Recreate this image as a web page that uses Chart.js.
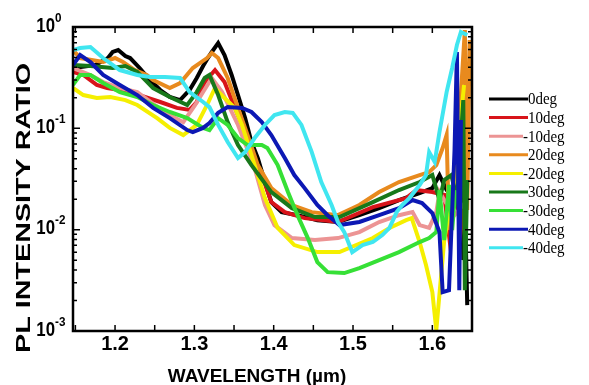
<!DOCTYPE html>
<html>
<head>
<meta charset="utf-8">
<script src="https://cdn.jsdelivr.net/npm/chart.js@4.4.0/dist/chart.umd.min.js"></script>
<style>
  html, body { margin: 0; padding: 0; background: #fff; }
  #wrap { width: 589px; height: 385px; }
</style>
</head>
<body>
<div id="wrap"><canvas id="plChart" width="589" height="385"></canvas></div>
<script>
// legend order
const labels = ['0deg', '10deg', '-10deg', '20deg', '-20deg', '30deg', '-30deg', '40deg', '-40deg'];
const colors = ['#000000', '#d8141a', '#ec9494', '#e88a1e', '#f5ef00', '#18781a', '#36e036', '#0c18b4', '#40e6f0'];

// wavelength (um) / PL intensity ratio
const wl0 = [1.147, 1.175, 1.191, 1.197, 1.204, 1.213, 1.219, 1.231, 1.244, 1.257, 1.269, 1.282, 1.294, 1.303, 1.311, 1.317, 1.322, 1.330, 1.338, 1.347, 1.355, 1.364, 1.372, 1.380, 1.389, 1.397, 1.410, 1.430, 1.455, 1.481, 1.508, 1.533, 1.558, 1.584, 1.600, 1.609, 1.618, 1.628, 1.634, 1.636, 1.639, 1.641, 1.644];
const r0 = [0.394, 0.421, 0.494, 0.567, 0.593, 0.517, 0.494, 0.394, 0.300, 0.239, 0.204, 0.190, 0.239, 0.314, 0.412, 0.494, 0.567, 0.695, 0.529, 0.336, 0.213, 0.126, 0.0732, 0.0509, 0.0295, 0.0187, 0.0149, 0.0139, 0.0124, 0.0119, 0.0139, 0.0163, 0.0196, 0.0230, 0.0257, 0.0346, 0.0246, 0.0196, 0.0323, 0.152, 0.00501, 0.0196, 0.00180];

const wl10 = [1.147, 1.160, 1.177, 1.190, 1.206, 1.231, 1.257, 1.278, 1.294, 1.303, 1.313, 1.326, 1.338, 1.351, 1.364, 1.372, 1.385, 1.397, 1.414, 1.439, 1.481, 1.525, 1.567, 1.580, 1.600, 1.615, 1.621, 1.628, 1.636, 1.643];
const r10 = [0.360, 0.336, 0.268, 0.250, 0.239, 0.213, 0.182, 0.159, 0.152, 0.182, 0.286, 0.376, 0.286, 0.159, 0.0919, 0.0583, 0.0346, 0.0187, 0.0149, 0.0130, 0.0119, 0.0167, 0.0205, 0.0246, 0.0235, 0.0220, 0.00885, 0.0276, 0.00991, 0.0220];

const wlM10 = [1.147, 1.169, 1.185, 1.206, 1.228, 1.250, 1.269, 1.286, 1.301, 1.311, 1.322, 1.335, 1.355, 1.376, 1.389, 1.401, 1.423, 1.452, 1.481, 1.508, 1.533, 1.558, 1.575, 1.584, 1.596, 1.605, 1.609, 1.615, 1.628, 1.644];
const rM10 = [0.394, 0.336, 0.286, 0.250, 0.228, 0.170, 0.135, 0.115, 0.170, 0.228, 0.314, 0.228, 0.108, 0.0405, 0.0175, 0.0111, 0.00826, 0.00789, 0.00826, 0.00946, 0.0119, 0.0139, 0.0149, 0.0111, 0.0104, 0.0149, 0.0235, 0.0196, 0.0139, 0.0196];

const wl20 = [1.147, 1.156, 1.185, 1.200, 1.210, 1.225, 1.240, 1.248, 1.269, 1.282, 1.298, 1.316, 1.322, 1.330, 1.342, 1.355, 1.367, 1.380, 1.397, 1.423, 1.448, 1.481, 1.508, 1.533, 1.558, 1.584, 1.596, 1.605, 1.613, 1.618, 1.621, 1.628, 1.634, 1.641, 1.644, 1.647];
const r20 = [0.593, 0.494, 0.451, 0.494, 0.451, 0.376, 0.336, 0.300, 0.250, 0.280, 0.394, 0.494, 0.554, 0.494, 0.314, 0.159, 0.0859, 0.0434, 0.0257, 0.0175, 0.0149, 0.0139, 0.0175, 0.0235, 0.0295, 0.0346, 0.0370, 0.0434, 0.0639, 0.0859, 0.00991, 0.0309, 0.121, 0.934, 0.0156, 0.744];

const wlM20 = [1.147, 1.160, 1.177, 1.194, 1.213, 1.228, 1.253, 1.269, 1.286, 1.303, 1.316, 1.326, 1.338, 1.351, 1.360, 1.376, 1.389, 1.405, 1.426, 1.455, 1.483, 1.525, 1.546, 1.567, 1.574, 1.584, 1.592, 1.600, 1.605, 1.615, 1.628, 1.640];
const rM20 = [0.250, 0.213, 0.199, 0.204, 0.190, 0.170, 0.126, 0.101, 0.0859, 0.108, 0.170, 0.250, 0.199, 0.159, 0.108, 0.0434, 0.0205, 0.0104, 0.00705, 0.00601, 0.00601, 0.00826, 0.0104, 0.0124, 0.0130, 0.00755, 0.00448, 0.00242, 0.00102, 0.00789, 0.0309, 0.268];

const wl30 = [1.147, 1.169, 1.197, 1.213, 1.228, 1.248, 1.269, 1.291, 1.303, 1.313, 1.319, 1.330, 1.342, 1.355, 1.372, 1.397, 1.423, 1.452, 1.483, 1.525, 1.558, 1.584, 1.600, 1.609, 1.615, 1.624, 1.631, 1.639, 1.641, 1.644];
const r30 = [0.421, 0.412, 0.394, 0.412, 0.360, 0.250, 0.204, 0.170, 0.228, 0.314, 0.336, 0.213, 0.115, 0.0684, 0.0434, 0.0235, 0.0163, 0.0133, 0.0133, 0.0187, 0.0246, 0.0295, 0.0346, 0.0196, 0.0309, 0.0346, 0.0196, 0.190, 0.00253, 0.0309];

const wlM30 = [1.147, 1.156, 1.169, 1.185, 1.206, 1.228, 1.248, 1.269, 1.291, 1.311, 1.319, 1.330, 1.342, 1.355, 1.367, 1.385, 1.392, 1.405, 1.418, 1.430, 1.443, 1.455, 1.468, 1.489, 1.508, 1.533, 1.558, 1.584, 1.596, 1.605, 1.609, 1.615, 1.621, 1.625, 1.629];
const rM30 = [0.268, 0.336, 0.336, 0.280, 0.228, 0.204, 0.170, 0.145, 0.126, 0.101, 0.0962, 0.126, 0.108, 0.0802, 0.0684, 0.0684, 0.0639, 0.0434, 0.0235, 0.0139, 0.00826, 0.00479, 0.00381, 0.00373, 0.00418, 0.00501, 0.00601, 0.00755, 0.00826, 0.00946, 0.0246, 0.00789, 0.0276, 0.00991, 0.0246];

const wl40 = [1.147, 1.156, 1.169, 1.185, 1.206, 1.228, 1.248, 1.269, 1.291, 1.298, 1.311, 1.319, 1.330, 1.342, 1.360, 1.372, 1.385, 1.397, 1.414, 1.426, 1.439, 1.455, 1.468, 1.483, 1.508, 1.533, 1.558, 1.575, 1.587, 1.600, 1.609, 1.613, 1.621, 1.628, 1.631, 1.634, 1.636];
const r40 = [0.421, 0.529, 0.451, 0.336, 0.268, 0.213, 0.159, 0.126, 0.0962, 0.0919, 0.101, 0.113, 0.142, 0.162, 0.159, 0.145, 0.115, 0.0859, 0.0509, 0.0346, 0.0257, 0.0175, 0.0139, 0.0111, 0.0119, 0.0139, 0.0163, 0.0196, 0.0183, 0.0146, 0.00946, 0.00242, 0.00253, 0.0611, 0.567, 0.00253, 0.121];

const wlM40 = [1.147, 1.156, 1.169, 1.185, 1.206, 1.228, 1.244, 1.263, 1.282, 1.294, 1.311, 1.319, 1.330, 1.342, 1.355, 1.364, 1.376, 1.389, 1.401, 1.414, 1.424, 1.435, 1.448, 1.460, 1.473, 1.481, 1.489, 1.499, 1.512, 1.525, 1.537, 1.546, 1.555, 1.562, 1.571, 1.584, 1.592, 1.596, 1.603, 1.609, 1.618, 1.625, 1.631, 1.636, 1.644];
const rM40 = [0.593, 0.620, 0.635, 0.494, 0.376, 0.336, 0.321, 0.321, 0.314, 0.228, 0.182, 0.162, 0.108, 0.0732, 0.0509, 0.0583, 0.0802, 0.108, 0.135, 0.145, 0.142, 0.108, 0.0583, 0.0295, 0.0175, 0.0119, 0.00946, 0.00601, 0.00705, 0.00755, 0.00885, 0.0104, 0.0149, 0.0175, 0.0205, 0.0276, 0.0346, 0.0583, 0.0465, 0.0919, 0.228, 0.394, 0.664, 0.893, 0.833];

const wls = [wl0, wl10, wlM10, wl20, wlM20, wl30, wlM30, wl40, wlM40];
const vals = [r0, r10, rM10, r20, rM20, r30, rM30, r40, rM40];

// axis ticks
const xMajor = [1.2, 1.3, 1.4, 1.5, 1.6];
const xMinor = [1.15, 1.25, 1.35, 1.45, 1.55, 1.65];
const yMajor = [1, 0.1, 0.01, 0.001];
const yExp = ['0', '-1', '-2', '-3'];

const SANS = '"Liberation Sans", Arial, sans-serif';
const SERIF = '"Liberation Serif", "Times New Roman", serif';

function squeezeText(ctx, text, x, y, font, sx, align) {
    ctx.save();
    ctx.font = font;
    ctx.textAlign = align;
    ctx.textBaseline = 'middle';
    ctx.translate(x, y);
    ctx.scale(sx, 1);
    ctx.fillText(text, 0, 0);
    ctx.restore();
}

const framePlugin = {
    id: 'frame',
    afterDraw(chart) {
        const ctx = chart.ctx;
        const a = chart.chartArea;
        const xs = chart.scales.x;
        const ys = chart.scales.y;
        ctx.save();
        ctx.strokeStyle = '#000';
        ctx.fillStyle = '#000';

        // ticks (inward, all four sides)
        ctx.lineWidth = 1.5;
        ctx.beginPath();
        xMajor.concat(xMinor).forEach(v => {
            const px = xs.getPixelForValue(v);
            if (px < a.left || px > a.right) return;
            ctx.moveTo(px, a.bottom); ctx.lineTo(px, a.bottom - 6);
            ctx.moveTo(px, a.top); ctx.lineTo(px, a.top + 6);
        });
        for (let e = -3; e < 0; e++) {
            for (let k = 1; k <= 9; k++) {
                const py = ys.getPixelForValue(k * Math.pow(10, e));
                const len = k === 1 ? 7 : 4;
                ctx.moveTo(a.left, py); ctx.lineTo(a.left + len, py);
                ctx.moveTo(a.right, py); ctx.lineTo(a.right - len, py);
            }
        }
        ctx.stroke();

        // frame
        ctx.lineWidth = 2.5;
        ctx.strokeRect(a.left, a.top, a.right - a.left, a.bottom - a.top);

        // x tick labels
        xMajor.forEach(v => {
            squeezeText(ctx, v.toFixed(1), xs.getPixelForValue(v), a.bottom + 13, 'bold 20px ' + SANS, 1, 'center');
        });

        // y tick labels 10^n
        yMajor.forEach((v, i) => {
            const py = ys.getPixelForValue(v);
            squeezeText(ctx, '10', 55, py - 1, 'bold 21px ' + SANS, 0.8, 'right');
            squeezeText(ctx, yExp[i], 55, py - 9, 'bold 13px ' + SANS, 0.9, 'left');
        });

        // axis titles
        ctx.save();
        ctx.translate(24, 208);
        ctx.rotate(-Math.PI / 2);
        ctx.font = 'bold 21px ' + SANS;
        const tw = ctx.measureText('PL INTENSITY RATIO').width;
        squeezeText(ctx, 'PL INTENSITY RATIO', 0, 0, 'bold 21px ' + SANS, 290 / tw, 'center');
        ctx.restore();

        squeezeText(ctx, 'WAVELENGTH (\u00b5m)', 257, 377, 'bold 19px ' + SANS, 1, 'center');

        // legend
        ctx.font = '17px ' + SERIF;
        const minusW = ctx.measureText('-').width * 0.88;
        labels.forEach((lab, i) => {
            const y = 99 + i * 18.6;
            const tx = lab.startsWith('-') ? 528 - minusW : 528;
            ctx.strokeStyle = colors[i];
            ctx.lineWidth = 3;
            ctx.beginPath();
            ctx.moveTo(489, y);
            ctx.lineTo(tx, y);
            ctx.stroke();
            ctx.fillStyle = '#000';
            squeezeText(ctx, lab, tx, y + 1, '17px ' + SERIF, 0.88, 'left');
        });
        ctx.restore();
    }
};

const ctx = document.getElementById('plChart').getContext('2d');
new Chart(ctx, {
    type: 'line',
    data: {
        datasets: labels.map((lab, i) => ({
            label: lab,
            data: wls[i].map((x, j) => ({ x: x, y: vals[i][j] })),
            borderColor: colors[i],
            borderWidth: 4,
            pointRadius: 0,
            tension: 0,
            fill: false,
            order: labels.length - i   // later series drawn on top
        }))
    },
    options: {
        responsive: false,
        animation: false,
        events: [],
        layout: { padding: { left: 73, top: 27, right: 117, bottom: 54 } },
        plugins: { legend: { display: false }, tooltip: { enabled: false } },
        scales: {
            x: { type: 'linear', min: 1.147, max: 1.65, display: false },
            y: { type: 'logarithmic', min: 0.001, max: 1, display: false }
        }
    },
    plugins: [framePlugin]
});
</script>
</body>
</html>
